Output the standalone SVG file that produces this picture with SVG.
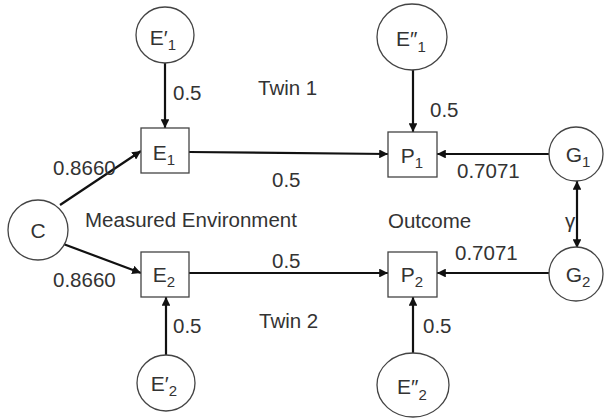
<svg xmlns="http://www.w3.org/2000/svg" width="604" height="419" viewBox="0 0 604 419">
<style>
.n{fill:#fff;stroke:#444;stroke-width:1.3}
.c{stroke:#111;stroke-width:2.2;fill:none}
.t{font-family:"Liberation Sans",Arial,sans-serif;font-size:20.5px;fill:#333}
.nl{font-family:"Liberation Sans",Arial,sans-serif;font-size:21px;fill:#333;text-anchor:middle}
.sub{font-size:15px}
</style>
<defs>
<marker id="a" viewBox="0 0 10 10" refX="10" refY="5" markerWidth="4" markerHeight="4" orient="auto-start-reverse" markerUnits="strokeWidth">
<path d="M0,0 L10,5 L0,10 Z" fill="#111"/>
</marker>
</defs>
<rect width="604" height="419" fill="#fff"/>
<g id="connectors">
<line class="c" x1="165" y1="63" x2="165" y2="128" marker-end="url(#a)"/>
<line class="c" x1="413" y1="70" x2="413" y2="132" marker-end="url(#a)"/>
<line class="c" x1="60" y1="205" x2="141" y2="151" marker-end="url(#a)"/>
<line class="c" x1="58" y1="242" x2="141" y2="273" marker-end="url(#a)"/>
<line class="c" x1="189" y1="152" x2="388" y2="154" marker-end="url(#a)"/>
<line class="c" x1="189" y1="273" x2="388" y2="273" marker-end="url(#a)"/>
<line class="c" x1="549" y1="154" x2="437" y2="154" marker-end="url(#a)"/>
<line class="c" x1="549" y1="273" x2="437" y2="273" marker-end="url(#a)"/>
<line class="c" x1="577" y1="181" x2="577" y2="248" marker-start="url(#a)" marker-end="url(#a)"/>
<line class="c" x1="166" y1="355" x2="166" y2="297" marker-end="url(#a)"/>
<line class="c" x1="413" y1="353" x2="413" y2="297" marker-end="url(#a)"/>
</g>
<g id="C"><circle class="n" cx="38" cy="230" r="30"/><text class="nl" x="38" y="238">C</text></g>
<g id="E1p"><ellipse class="n" cx="165" cy="35" rx="29" ry="28"/><text class="nl" x="163" y="45">E′<tspan class="sub" dy="5">1</tspan></text></g>
<g id="E1pp"><ellipse class="n" cx="412" cy="37" rx="35" ry="33"/><text class="nl" x="411" y="46">E″<tspan class="sub" dy="6">1</tspan></text></g>
<g id="E1"><rect class="n" x="141" y="128" width="48" height="45"/><text class="nl" x="164" y="160">E<tspan class="sub" dy="5">1</tspan></text></g>
<g id="P1"><rect class="n" x="388" y="132" width="49" height="45"/><text class="nl" x="412" y="163">P<tspan class="sub" dy="5">1</tspan></text></g>
<g id="G1"><circle class="n" cx="576" cy="154" r="27"/><text class="nl" x="578" y="162">G<tspan class="sub" dy="5">1</tspan></text></g>
<g id="G2"><circle class="n" cx="576" cy="274" r="27"/><text class="nl" x="578" y="282">G<tspan class="sub" dy="5">2</tspan></text></g>
<g id="E2"><rect class="n" x="141" y="252" width="48" height="45"/><text class="nl" x="164" y="282">E<tspan class="sub" dy="5">2</tspan></text></g>
<g id="P2"><rect class="n" x="388" y="252" width="49" height="45"/><text class="nl" x="412" y="282">P<tspan class="sub" dy="5">2</tspan></text></g>
<g id="E2p"><ellipse class="n" cx="166" cy="383" rx="29" ry="28"/><text class="nl" x="164" y="391">E′<tspan class="sub" dy="5">2</tspan></text></g>
<g id="E2pp"><ellipse class="n" cx="413" cy="385" rx="36" ry="32"/><text class="nl" x="412" y="394">E″<tspan class="sub" dy="6">2</tspan></text></g>
<g id="labels">
<text class="t" x="173" y="100">0.5</text>
<text class="t" x="258" y="95">Twin 1</text>
<text class="t" x="53" y="175">0.8660</text>
<text class="t" x="272" y="187">0.5</text>
<text class="t" x="430" y="117">0.5</text>
<text class="t" x="457" y="178">0.7071</text>
<text class="t" x="85" y="227">Measured Environment</text>
<text class="t" x="388" y="228">Outcome</text>
<text class="t" x="565" y="228" font-family="Liberation Serif" font-size="22px">γ</text>
<text class="t" x="53" y="287">0.8660</text>
<text class="t" x="272" y="268">0.5</text>
<text class="t" x="455" y="260">0.7071</text>
<text class="t" x="173" y="333">0.5</text>
<text class="t" x="259" y="328">Twin 2</text>
<text class="t" x="423" y="333">0.5</text>
</g>
</svg>
